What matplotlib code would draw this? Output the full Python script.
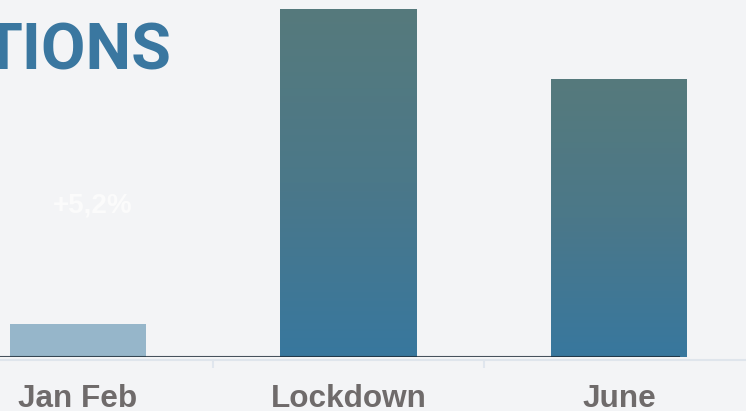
import numpy as np
import matplotlib.pyplot as plt
from matplotlib.colors import LinearSegmentedColormap

# data (relative heights, Lockdown = 100)
categories = ["Jan Feb", "Lockdown", "June"]
values = [9.5, 100, 79.9]
gradient_bar = [False, True, True]
note = "+5,2%"
title = "TIONS"

bg = "#f3f4f6"
flat_color = "#96b6ca"
grad = LinearSegmentedColormap.from_list("g", ["#38779e", "#4b7889", "#567a7c"])

W, H = 746, 411
fig = plt.figure(figsize=(W / 100, H / 100), dpi=100, facecolor=bg)
base_px = 54  # baseline height from figure bottom
ax = fig.add_axes([0, base_px / H, 1, (H - base_px) / H], facecolor=bg)

x = np.arange(len(categories))
step = 270.5
left = -78 / step
right = (W - 78) / step
width = 136 / step

bars = ax.bar(x, values, width=width, color=flat_color, zorder=2)
ax.set_xlim(left, right)
ax.set_ylim(0, 100 * (H - base_px) / 348)

# vertical gradient inside the later bars
g = np.linspace(0, 1, 256).reshape(-1, 1)
for b, use in zip(bars, gradient_bar):
    if not use:
        continue
    b.set_facecolor("none")
    x0, y0 = b.get_x(), b.get_y()
    im = ax.imshow(g, cmap=grad, origin="lower", aspect="auto",
                   extent=[x0, x0 + b.get_width(), y0, y0 + b.get_height()],
                   zorder=2, interpolation="bilinear")
    im.set_clip_path(b)
ax.set_xlim(left, right)
ax.set_ylim(0, 100 * (H - base_px) / 348)

# axis styling
for s in ["top", "left", "right"]:
    ax.spines[s].set_visible(False)
ax.spines["bottom"].set_color("#dfe5ec")
ax.spines["bottom"].set_linewidth(1.5)
ax.spines["bottom"].set_position(("outward", 1.8))
ax.set_yticks([])
ax.set_xticks(x, [""] * len(x))
ax.tick_params(axis="x", which="major", length=0)
ax.set_xticks([0.5, 1.5], minor=True)
ax.tick_params(axis="x", which="minor", length=6, width=1.5, color="#e0e6ee")

# dark baseline
ax.axhline(0, xmin=0, xmax=679 / W, color="#1c2a35", alpha=0.8, lw=1.5, zorder=3)

for xi, lab in zip(x, categories):
    ax.annotate(lab, xy=(xi, 4.5), xycoords=("data", "figure pixels"),
                ha="center", va="baseline", fontsize=22.7, fontweight="bold",
                color="#6f6b6b", family="Liberation Sans", annotation_clip=False)

fig.text(93 / W, (H - 212) / H, note, ha="center", va="baseline",
         fontsize=20, fontweight="bold", color="#fbfbfb", family="Liberation Sans")

fig.text(172 / W, (H - 69) / H, title, ha="right", va="baseline",
         fontsize=46.5, fontweight="bold", color="#3a77a0", family="Roboto")

fig.savefig("out.png", dpi=100, facecolor=bg)
